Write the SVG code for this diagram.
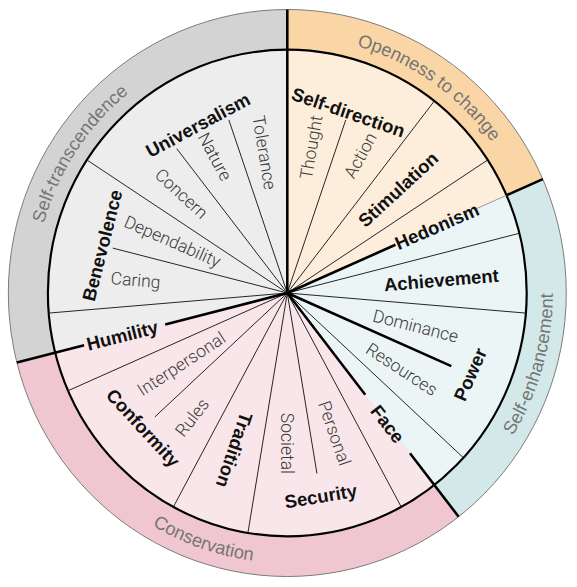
<svg xmlns="http://www.w3.org/2000/svg" width="577" height="587" viewBox="0 0 577 587">
<style>
.m{font-family:"Liberation Sans",Arial,sans-serif;font-weight:bold;font-size:18.5px;fill:#111;dominant-baseline:central;text-anchor:middle}
.s{font-family:Roboto,"Liberation Sans",sans-serif;font-weight:300;font-size:17.5px;fill:#3a3a3a;dominant-baseline:central}
.r{font-family:"Liberation Sans",Arial,sans-serif;font-size:18.5px;fill:#757575;text-anchor:middle}
.tn{stroke:#222;stroke-width:1;fill:none}
.tg{stroke:#9a9a9a;stroke-width:1;fill:none}
.tk{stroke:#000;stroke-width:2.6;fill:none}
</style>
<defs>
<path id="pST" d="M-206.3,153.2 A257,257 0 0 1 59.5,-250.0"/>
<path id="pOC" d="M-147.4,-210.5 A257,257 0 0 1 248.2,66.5"/>
<path id="pSE" d="M18.8,269.3 A270,270 0 0 0 158.7,-218.4"/>
<path id="pCO" d="M-269.96,4.71 A270,270 0 0 0 209.8,169.9"/>
</defs>
<rect width="577" height="587" fill="#fff"/>
<g id="wheel" transform="translate(287.3,293) scale(0.984,1)">
<g id="ring-openness">
<path d="M0,0 L0,-283.5 A283.5,283.5 0 0 1 259.62,-113.88 Z" fill="#fad5a5"/>
<path d="M0,0 L0,-243.3 A243.3,243.3 0 0 1 222.81,-97.73 Z" fill="#fdeedc"/>
<text class="r"><textPath href="#pOC" startOffset="50%">Openness to change</textPath></text>
</g>
<g id="ring-self-enhancement">
<path d="M0,0 L259.62,-113.88 A283.5,283.5 0 0 1 174.13,223.72 Z" fill="#d3e9e9"/>
<path d="M0,0 L222.81,-97.73 A243.3,243.3 0 0 1 149.44,192.00 Z" fill="#ebf5f5"/>
<text class="r"><textPath href="#pSE" startOffset="50%">Self-enhancement</textPath></text>
</g>
<g id="ring-conservation">
<path d="M0,0 L174.13,223.72 A283.5,283.5 0 0 1 -274.82,69.60 Z" fill="#f0c7d1"/>
<path d="M0,0 L149.44,192.00 A243.3,243.3 0 0 1 -235.86,59.73 Z" fill="#f9e6ea"/>
<text class="r"><textPath href="#pCO" startOffset="50%">Conservation</textPath></text>
</g>
<g id="ring-self-transcendence">
<path d="M0,0 L-274.82,69.60 A283.5,283.5 0 0 1 0,-283.5 Z" fill="#d3d3d3"/>
<path d="M0,0 L-235.86,59.73 A243.3,243.3 0 0 1 0,-243.3 Z" fill="#ededed"/>
<text class="r"><textPath href="#pST" startOffset="50%">Self-transcendence</textPath></text>
</g>
<circle r="283.5" fill="none" stroke="#7a7a7a" stroke-width="1"/>
<circle r="243.3" fill="none" stroke="#000" stroke-width="2.2"/>
</g>
<g id="connectors" transform="translate(287.3,293) scale(0.984,1)">
<path class="tn" d="M0,0L149.44,-192.00M0,0L203.68,-133.07M0,0L235.86,-59.73M0,0L242.47,20.09M0,0L179.00,164.78M0,0L115.80,213.97M0,0L-40.05,239.98M0,0L-115.80,213.97M0,0L-222.81,97.73M0,0L-242.47,20.09M0,0L-203.68,-133.07"/>
<path class="tn" d="M0,0L59.42,-173.09M0,0L30.12,180.50M0,0L-134.64,123.94M0,0L-177.40,-44.92M0,0L-112.40,-144.41M0,0L-59.42,-173.09"/>
<path class="tg" d="M192.31,-84.36L222.81,-97.73"/>
<path class="tk" d="M0,0L0,-283.5M0,0L166.67,73.11M0,0L109.89,-48.20M222.81,-97.73L259.62,-113.88M0,0L79.23,101.80M124.68,160.20L174.13,223.72M0,0L-124.08,31.42M-206.48,52.29L-274.82,69.60"/>
</g>
<g transform="translate(287.3,293)">
<g id="universalism">
<text class="m" x="-89.4" y="-168.0" transform="rotate(-28.42 -89.4 -168.0)">Universalism</text>
<text class="s" x="-29.2" y="-177.5" transform="rotate(80.53 -29.2 -177.5)">Tolerance</text>
<text class="s" x="-84.8" y="-159.2" transform="rotate(61.58 -84.8 -159.2)">Nature</text>
<text class="s" x="-129.6" y="-121.2" transform="rotate(42.63 -129.6 -121.2)">Concern</text>
</g>
<g id="benevolence">
<text class="m" x="-185.1" y="-47.6" transform="rotate(-75.79 -185.1 -47.6)">Benevolence</text>
<text class="s" x="-162.2" y="-72.3" transform="rotate(23.68 -162.2 -72.3)">Dependability</text>
<text class="s" x="-176.5" y="-14.9" transform="rotate(4.74 -176.5 -14.9)">Caring</text>
</g>
<g id="humility">
<text class="m" x="-165.0" y="42.5" transform="rotate(-14.21 -165.0 42.5)">Humility</text>
</g>
<g id="conformity">
<text class="m" x="-144.1" y="134.8" transform="rotate(47.37 -144.1 134.8)">Conformity</text>
<text class="s" x="-148.3" y="98.5" transform="rotate(-33.16 -148.3 98.5)">Interpersonal</text>
<text class="s" x="-108.2" y="141.3" transform="rotate(-52.11 -108.2 141.3)">Rules</text>
</g>
<g id="tradition">
<text class="m" x="-53.0" y="157.0" transform="rotate(108.95 -53.0 157.0)">Tradition</text>
</g>
<g id="security">
<text class="m" x="33.4" y="203.2" transform="rotate(-9.47 33.4 203.2)">Security</text>
<text class="s" text-anchor="end" x="0" y="181" transform="rotate(90 0 181)">Societal</text>
<text class="s" text-anchor="end" x="58.1" y="172.1" transform="rotate(71.05 58.1 172.1)">Personal</text>
</g>
<g id="face">
<text class="m" x="100.3" y="131.0" transform="rotate(52.1 100.3 131.0)">Face</text>
</g>
<g id="power">
<text class="m" x="182.9" y="81.5" transform="rotate(-66.32 182.9 81.5)">Power</text>
<text class="s" text-anchor="end" x="170.8" y="43.9" transform="rotate(14.21 170.8 43.9)">Dominance</text>
<text class="s" text-anchor="end" x="148.3" y="98.5" transform="rotate(33.16 148.3 98.5)">Resources</text>
</g>
<g id="achievement">
<text class="m" x="154.0" y="-13.0" transform="rotate(-4.74 154.0 -13.0)">Achievement</text>
</g>
<g id="hedonism">
<text class="m" x="149.6" y="-66.7" transform="rotate(-23.68 149.6 -66.7)">Hedonism</text>
</g>
<g id="stimulation">
<text class="m" x="110.8" y="-103.6" transform="rotate(-42.63 110.8 -103.6)">Stimulation</text>
</g>
<g id="self-direction">
<text class="m" x="61.0" y="-180.7" transform="rotate(18.95 61.0 -180.7)">Self-direction</text>
<text class="s" text-anchor="end" x="29.2" y="-177.5" transform="rotate(-80.53 29.2 -177.5)">Thought</text>
<text class="s" text-anchor="end" x="84.8" y="-159.2" transform="rotate(-61.58 84.8 -159.2)">Action</text>
</g>
</g>
</svg>
